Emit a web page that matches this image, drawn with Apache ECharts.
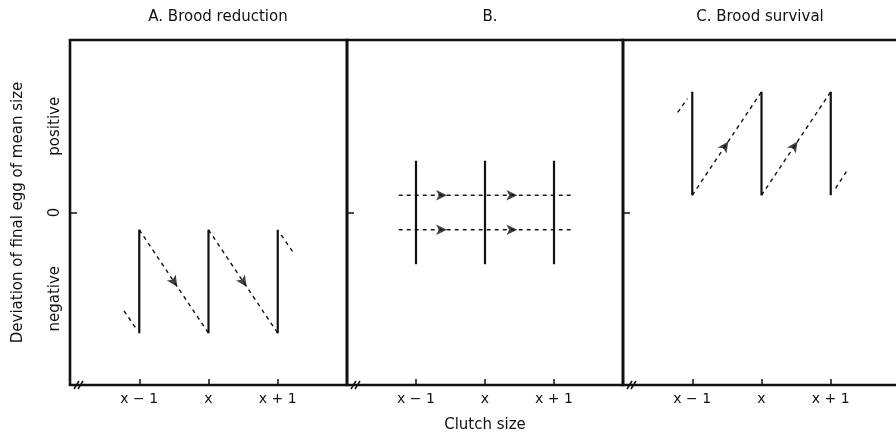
<!DOCTYPE html>
<html lang="en">
<head>
  <meta charset="UTF-8">
  <title>Clutch size and final egg size</title>
  <script src="https://cdn.jsdelivr.net/npm/echarts@6.0.0/dist/echarts.min.js"></script>
  <style>
    html, body { margin: 0; padding: 0; background: #fff; }
    #chart { width: 896px; height: 436px; }
  </style>
</head>
<body>
  <div id="chart"></div>
  <script>
    // tick labels
    var categories = ['x \u2212 1', 'x', 'x + 1'];
    var categoryPos = [1, 2, 3];
    var yTickValues = [-2.5, 0, 2.5];
    var yTickLabels = ['negative', '0', 'positive'];
    var panelTitles = ['A. Brood reduction', 'B.', 'C. Brood survival'];

    // A. brood reduction
    var reductionTop = [-0.5, -0.5, -0.5];
    var reductionBottom = [-3.5, -3.5, -3.5];
    var reductionLeadIn = [[0.78, -2.85], [0.95, -3.35]];
    var reductionTail = [[3.05, -0.65], [3.22, -1.15]];
    var reductionArrows = [[1.55, -2.15], [2.55, -2.15]];

    // B.
    var neutralTop = [1.5, 1.5, 1.5];
    var neutralBottom = [-1.5, -1.5, -1.5];
    var neutralLevels = [0.5, -0.5];
    var neutralSpan = [0.75, 3.26];
    var neutralArrowX = [1.45, 2.47];

    // C. brood survival
    var survivalTop = [3.5, 3.5, 3.5];
    var survivalBottom = [0.5, 0.5, 0.5];
    var survivalLeadIn = [[0.79, 2.9], [0.93, 3.3]];
    var survivalTail = [[3.07, 0.7], [3.23, 1.2]];
    var survivalArrows = [[1.52, 2.06], [2.52, 2.06]];

    var FONT = 'DejaVu Sans';
    var grids = [
      { left: 70, top: 40, width: 277, height: 345 },
      { left: 347, top: 40, width: 276, height: 345 },
      { left: 623, top: 40, width: 277, height: 345 }
    ];
    var titleCenters = [213, 485, 755];

    var chart = echarts.init(document.getElementById('chart'));

    // arrow rotation from the slope on screen
    function arrowRotate(gi, slope) {
      var g = grids[gi];
      var ang = Math.atan2(slope * g.height / 10, g.width / 4) * 180 / Math.PI;
      return ang - 90;
    }

    var series = [];
    function solid(gi, pts) {
      series.push({
        type: 'line', xAxisIndex: gi, yAxisIndex: gi, data: pts,
        symbol: 'none', silent: true,
        lineStyle: { color: '#111', width: 2.2 }
      });
    }
    function dashed(gi, pts) {
      series.push({
        type: 'line', xAxisIndex: gi, yAxisIndex: gi, data: pts,
        symbol: 'none', silent: true,
        lineStyle: { color: '#111', width: 1.4, type: [4, 4] }
      });
    }
    function arrows(gi, pts, rot) {
      series.push({
        type: 'scatter', xAxisIndex: gi, yAxisIndex: gi, data: pts,
        symbol: 'arrow', symbolSize: [8, 11], symbolRotate: rot, silent: true,
        itemStyle: { color: '#111' }
      });
    }

    // panel A
    for (var i = 0; i < 3; i++) {
      solid(0, [[categoryPos[i], reductionBottom[i]], [categoryPos[i], reductionTop[i]]]);
    }
    for (var i = 0; i < 2; i++) {
      dashed(0, [[categoryPos[i], reductionTop[i]], [categoryPos[i + 1], reductionBottom[i + 1]]]);
    }
    dashed(0, reductionLeadIn);
    dashed(0, reductionTail);
    arrows(0, reductionArrows, arrowRotate(0, -3));

    // panel B
    for (var i = 0; i < 3; i++) {
      solid(1, [[categoryPos[i], neutralBottom[i]], [categoryPos[i], neutralTop[i]]]);
    }
    neutralLevels.forEach(function (lv) {
      dashed(1, [[neutralSpan[0], lv], [neutralSpan[1], lv]]);
      arrows(1, neutralArrowX.map(function (x) { return [x, lv]; }), -90);
    });

    // panel C
    for (var i = 0; i < 3; i++) {
      solid(2, [[categoryPos[i], survivalBottom[i]], [categoryPos[i], survivalTop[i]]]);
    }
    for (var i = 0; i < 2; i++) {
      dashed(2, [[categoryPos[i], survivalBottom[i]], [categoryPos[i + 1], survivalTop[i + 1]]]);
    }
    dashed(2, survivalLeadIn);
    dashed(2, survivalTail);
    arrows(2, survivalArrows, arrowRotate(2, 3));

    var xAxes = [], yAxes = [], titles = [], graphics = [];
    grids.forEach(function (g, gi) {
      g.show = true;
      g.borderColor = '#111';
      g.borderWidth = 2.6;
      g.containLabel = false;
      g.outerBoundsMode = 'none';
      xAxes.push({
        type: 'value', gridIndex: gi, min: 0, max: 4, position: 'bottom',
        axisLine: { show: false, onZero: false },
        splitLine: { show: false },
        axisTick: { show: true, inside: true, length: 6, customValues: categoryPos,
          lineStyle: { color: '#111', width: 1.5 } },
        axisLabel: { show: true, customValues: categoryPos, margin: 7,
          fontFamily: FONT, fontSize: 14, color: '#111',
          formatter: function (v) { return categories[Math.round(v) - 1]; } },
        name: gi === 1 ? 'Clutch size' : '',
        nameLocation: 'middle', nameGap: 33,
        nameTextStyle: { fontFamily: FONT, fontSize: 15, color: '#111' }
      });
      yAxes.push({
        type: 'value', gridIndex: gi, min: -5, max: 5, interval: 2.5, position: 'left',
        axisLine: { show: false, onZero: false },
        splitLine: { show: false },
        axisTick: { show: true, inside: true, length: 7, customValues: [0],
          lineStyle: { color: '#111', width: 1.5 } },
        axisLabel: { show: gi === 0, customValues: yTickValues, rotate: 90, margin: 7,
          fontFamily: FONT, fontSize: 15, color: '#111',
          formatter: function (v) { return yTickLabels[yTickValues.indexOf(v)]; } },
        name: gi === 0 ? 'Deviation of final egg of mean size' : '',
        nameLocation: 'middle', nameRotate: 90, nameGap: 44,
        nameTextStyle: { fontFamily: FONT, fontSize: 15, color: '#111' }
      });
      titles.push({
        text: panelTitles[gi], left: titleCenters[gi], top: 5, textAlign: 'center',
        textStyle: { fontFamily: FONT, fontSize: 15, fontWeight: 'normal', color: '#111' }
      });
      // axis break marks "//"
      var bx = g.left + 4, by = g.top + g.height;
      [0, 4].forEach(function (off) {
        graphics.push({
          type: 'line', silent: true,
          shape: { x1: bx + off, y1: by + 4, x2: bx + off + 5, y2: by - 4 },
          style: { stroke: '#111', lineWidth: 1.5 }
        });
      });
    });

    var option = {
      animation: false,
      backgroundColor: '#fff',
      title: titles,
      grid: grids,
      xAxis: xAxes,
      yAxis: yAxes,
      series: series,
      graphic: graphics
    };
    chart.setOption(option);
  </script>
</body>
</html>
